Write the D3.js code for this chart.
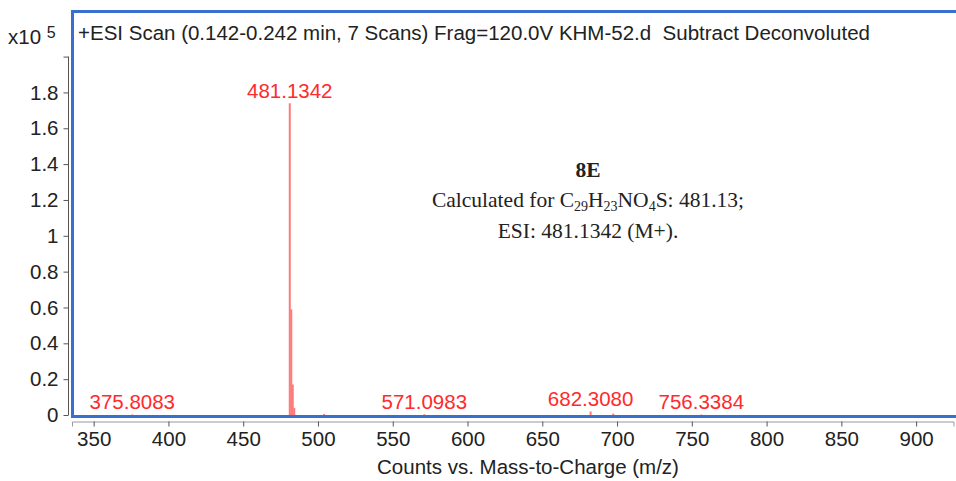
<!DOCTYPE html>
<html><head><meta charset="utf-8">
<script src="https://cdn.jsdelivr.net/npm/d3@7"></script>
<style>
body{margin:0;background:#fff}
svg{display:block}
text{font-family:"Liberation Sans",Arial,sans-serif}
</style>
</head><body><svg id="c" width="956" height="481"></svg>
<script>
// Deconvoluted ESI spectrum, intensities in units of 10^5 counts
const peakMz = [375.8083, 481.1342, 482.1370, 483.1320, 484.1300, 504.10, 571.0983, 682.3080, 697.50, 756.3384];
const peakIntensity = [0.003, 1.74, 0.59, 0.17, 0.04, 0.006, 0.004, 0.02, 0.008, 0.003];
const labelledMz = [375.8083, 481.1342, 571.0983, 682.3080, 756.3384];
const xTicks = [350, 400, 450, 500, 550, 600, 650, 700, 750, 800, 850, 900];
const yTicks = [0, 0.2, 0.4, 0.6, 0.8, 1.0, 1.2, 1.4, 1.6, 1.8, 2.0];
const yTickLabels = ["0", "0.2", "0.4", "0.6", "0.8", "1", "1.2", "1.4", "1.6", "1.8", ""];
const titleText = "+ESI Scan (0.142-0.242 min, 7 Scans) Frag=120.0V KHM-52.d  Subtract Deconvoluted";
const xTitle = "Counts vs. Mass-to-Charge (m/z)";

const svg = d3.select("#c");
const x = d3.scaleLinear().domain([335.5, 925]).range([72, 953.5]);
const y = d3.scaleLinear().domain([0, 2.0]).range([415, 56.6]);
const axisColor = "#555";
const textColor = "#222";
const fs = 20.5;
const sans = '"Liberation Sans",Arial,sans-serif';

// x axis below the frame
const gx = svg.append("g").attr("transform", "translate(0,421.5)")
  .call(d3.axisBottom(x).tickValues(xTicks).tickSize(5).tickPadding(5).tickFormat(d3.format("d")));
gx.select(".domain").attr("stroke", "#999").attr("stroke-width", 1);
gx.selectAll(".tick line").attr("stroke", axisColor);
gx.selectAll(".tick text").attr("fill", textColor).style("font-size", fs + "px").style("font-family", sans);

// y axis left of the frame
const gy = svg.append("g").attr("transform", "translate(68.5,0)")
  .call(d3.axisLeft(y).tickValues(yTicks).tickSize(5).tickPadding(5).tickFormat((d, i) => yTickLabels[i]));
gy.select(".domain").attr("stroke", axisColor).attr("d", `M0,${y(2.0)}V${y(0)}`);
gy.selectAll(".tick line").attr("stroke", axisColor);
gy.selectAll(".tick text").attr("fill", textColor).style("font-size", fs + "px").style("font-family", sans);

// axis title and scale factor
svg.append("text").attr("x", 528).attr("y", 474).attr("text-anchor", "middle")
  .attr("fill", textColor).style("font-size", fs + "px").text(xTitle);
const sf = svg.append("text").attr("x", 8).attr("y", 44).attr("fill", textColor).style("font-size", fs + "px");
sf.append("tspan").text("x10 ");
sf.append("tspan").attr("dy", -6).style("font-size", "16px").text("5");

// peaks
const peaks = peakMz.map((m, i) => ({m, v: peakIntensity[i]}));
svg.append("g").selectAll("line").data(peaks).join("line")
  .attr("x1", d => x(d.m)).attr("x2", d => x(d.m))
  .attr("y1", y(0)).attr("y2", d => y(d.v))
  .attr("stroke", "#ff7a7a").attr("stroke-width", 2);

// peak labels
svg.append("g").selectAll("text").data(peaks.filter(d => labelledMz.includes(d.m))).join("text")
  .attr("x", d => x(d.m)).attr("y", d => y(d.v) - 5)
  .attr("text-anchor", "middle").attr("fill", "#ff2a2a").style("font-size", fs + "px")
  .text(d => d.m.toFixed(4));

// plot frame
svg.append("rect").attr("x", 72.5).attr("y", 11.5).attr("width", 890).attr("height", 405)
  .attr("fill", "none").attr("stroke", "#3a6fd2").attr("stroke-width", 3);

// scan title
svg.append("text").attr("x", 78).attr("y", 40).attr("fill", textColor)
  .style("font-size", fs + "px").style("white-space", "pre").text(titleText);

// compound annotation
const serif = '"Liberation Serif","Times New Roman",serif';
const annSize = 21.5, subSize = 14;
const ann = svg.append("g").attr("fill", "#222");
ann.append("text").attr("x", 588).attr("y", 177).attr("text-anchor", "middle")
  .style("font-family", serif).style("font-size", annSize + "px").style("font-weight", "bold").text("8E");
const l2 = ann.append("text").attr("x", 588).attr("y", 207).attr("text-anchor", "middle")
  .style("font-family", serif).style("font-size", annSize + "px");
let shifted = false;
[["Calculated for C", 0], ["29", 1], ["H", 0], ["23", 1], ["NO", 0], ["4", 1], ["S: 481.13;", 0]].forEach(([t, sub]) => {
  const dy = sub ? (shifted ? 0 : 4) : (shifted ? -4 : 0);
  shifted = !!sub;
  l2.append("tspan").attr("dy", dy).style("font-size", (sub ? subSize : annSize) + "px").text(t);
});
ann.append("text").attr("x", 588).attr("y", 238).attr("text-anchor", "middle")
  .style("font-family", serif).style("font-size", annSize + "px").text("ESI: 481.1342 (M+).");
</script></body></html>
